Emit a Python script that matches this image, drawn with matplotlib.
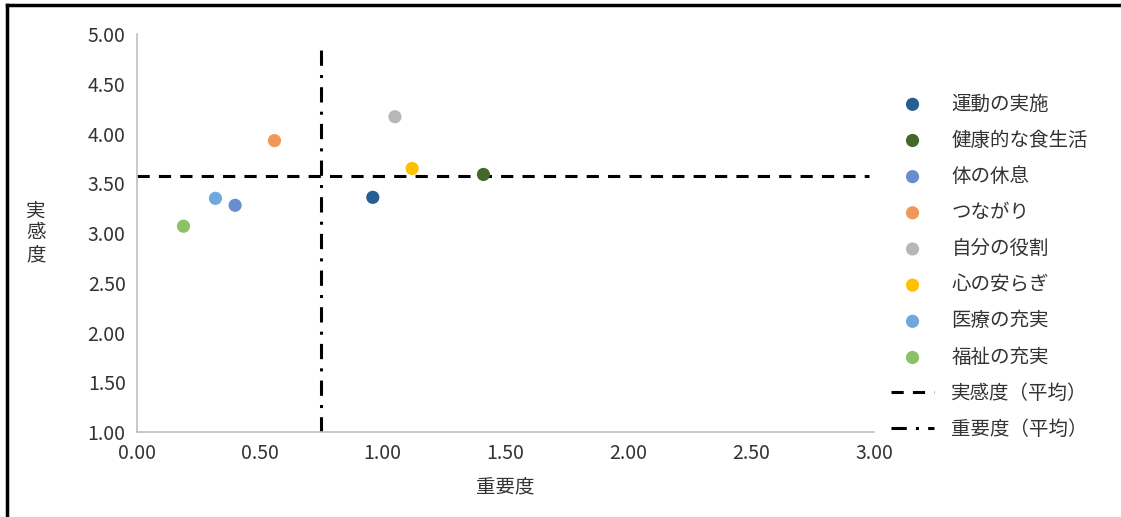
import matplotlib
matplotlib.use('Agg')
import matplotlib.pyplot as plt
from matplotlib.lines import Line2D

plt.rcParams['font.family'] = ['Noto Sans CJK JP', 'DejaVu Sans']

labels = ['運動の実施', '健康的な食生活', '体の休息', 'つながり',
          '自分の役割', '心の安らぎ', '医療の充実', '福祉の充実']
importance = [0.96, 1.41, 0.40, 0.56, 1.05, 1.12, 0.32, 0.19]
satisfaction = [3.36, 3.59, 3.28, 3.93, 4.17, 3.65, 3.35, 3.07]
colors = ['#255e91', '#43682b', '#698ed0', '#f1975a',
          '#b7b7b7', '#ffc000', '#6fa8dc', '#8cc168']

avg_satisfaction = 3.57
avg_importance = 0.75
xticks = [0.0, 0.5, 1.0, 1.5, 2.0, 2.5, 3.0]
yticks = [1.0, 1.5, 2.0, 2.5, 3.0, 3.5, 4.0, 4.5, 5.0]

fig = plt.figure(figsize=(11.21, 5.17), dpi=100)
ax = fig.add_axes([0.122, 0.164, 0.658, 0.770])

for x, y, c, lab in zip(importance, satisfaction, colors, labels):
    ax.scatter(x, y, s=90, color=c, label=lab, zorder=3, edgecolors='none')

ax.plot([0, 2.98], [avg_satisfaction, avg_satisfaction], color='black',
        lw=2.2, dashes=(4, 3), label='実感度（平均）', zorder=2)
ax.plot([avg_importance, avg_importance], [1.0, 4.9], color='black',
        lw=2.2, dashes=(5, 3, 1, 3), label='重要度（平均）', zorder=2)

ax.set_xlim(0, 3)
ax.set_ylim(1, 5)
ax.set_xticks(xticks)
ax.set_yticks(yticks)
ax.set_xticklabels(['{:.2f}'.format(v) for v in xticks])
ax.set_yticklabels(['{:.2f}'.format(v) for v in yticks])
ax.tick_params(length=0, labelsize=14, colors='#333333', pad=8)
for s in ['top', 'right']:
    ax.spines[s].set_visible(False)
for s in ['left', 'bottom']:
    ax.spines[s].set_color('#bfbfbf')
    ax.spines[s].set_linewidth(1.2)

ax.set_xlabel('重要度', fontsize=14, color='#333333', labelpad=9)
fig.text(0.032, 0.55, '実\n感\n度', fontsize=14, color='#333333',
         ha='center', va='center', linespacing=1.05)

leg = ax.legend(loc='upper left', bbox_to_anchor=(0.999, 0.895), frameon=False,
                fontsize=14, labelspacing=0.78, handlelength=2.2,
                handletextpad=0.9, labelcolor='#333333')

# outer frame (left and top edges only visible)
fig.add_artist(Line2D([0.006, 0.006], [0, 0.99], transform=fig.transFigure,
                      color='black', lw=2.5))
fig.add_artist(Line2D([0.006, 1.0], [0.99, 0.99], transform=fig.transFigure,
                      color='black', lw=2.5))

fig.savefig('out.png', dpi=100)
